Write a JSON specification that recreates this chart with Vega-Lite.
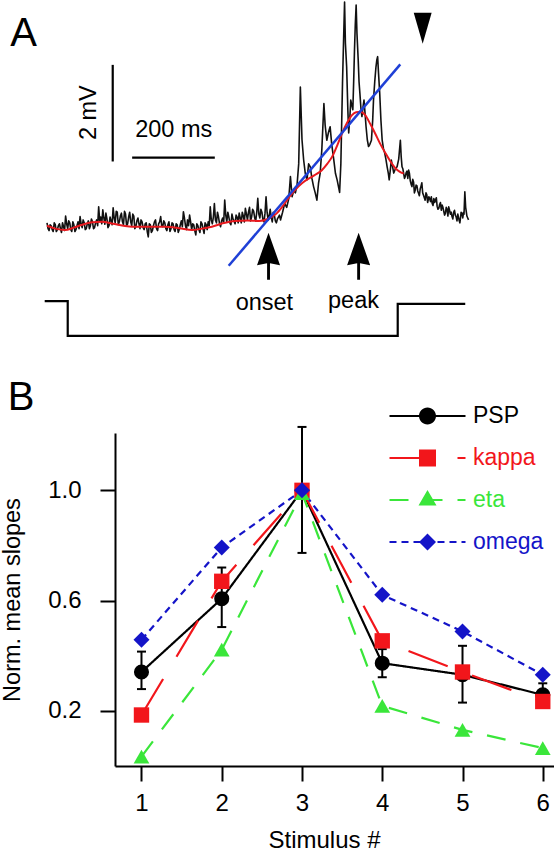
{
  "$schema": "https://vega.github.io/schema/vega-lite/v6.json",
  "padding": 0,
  "spacing": 27,
  "background": "white",
  "config": {
    "view": {"stroke": null},
    "font": "Liberation Sans",
    "text": {"font": "Liberation Sans"},
    "axis": {"labelFont": "Liberation Sans", "titleFont": "Liberation Sans", "labelColor": "black", "titleColor": "black", "titleFontWeight": "normal", "domainColor": "black", "tickColor": "black", "grid": false},
    "title": {"font": "Liberation Sans", "fontWeight": "normal", "color": "black"}
  },
  "datasets": {
    "trace": [
      {"t":0,"v":0.08},{"t":2.5,"v":-0.04},{"t":5,"v":-0.08},{"t":7.5,"v":0.04},{"t":10,"v":0.02},{"t":12.5,"v":-0.06},{"t":15,"v":-0.1},{"t":17.5,"v":0.08},{"t":20,"v":0.04},{"t":22.5,"v":-0.1},{"t":25,"v":-0.06},{"t":27.5,"v":0.02},{"t":30,"v":0.06},{"t":32.5,"v":-0.04},{"t":35,"v":-0.12},{"t":37.5,"v":0.08},{"t":40,"v":0.0},{"t":42.5,"v":-0.08},{"t":45,"v":0.22},{"t":47.5,"v":0.06},
      {"t":50,"v":-0.04},{"t":52.5,"v":0.12},{"t":55,"v":0.08},{"t":57.5,"v":-0.06},{"t":60,"v":-0.1},{"t":62.5,"v":0.1},{"t":65,"v":0.04},{"t":67.5,"v":-0.1},{"t":70,"v":-0.06},{"t":72.5,"v":0.02},{"t":75,"v":0.1},{"t":77.5,"v":-0.04},{"t":80,"v":0.21},{"t":82.5,"v":0.06},{"t":85,"v":-0.02},{"t":87.5,"v":0.14},{"t":90,"v":0.08},{"t":92.5,"v":-0.06},{"t":95,"v":-0.04},{"t":97.5,"v":0.06},
      {"t":100,"v":0.12},{"t":102.5,"v":-0.04},{"t":105,"v":0.02},{"t":107.5,"v":0.16},{"t":110,"v":0.1},{"t":112.5,"v":-0.04},{"t":115,"v":-0.02},{"t":117.5,"v":0.08},{"t":120,"v":0.14},{"t":122.5,"v":0.02},{"t":125,"v":0.41},{"t":127.5,"v":0.12},{"t":130,"v":0.2},{"t":132.5,"v":0.06},{"t":135,"v":0.35},{"t":137.5,"v":0.18},{"t":140,"v":0.05},{"t":142.5,"v":0.28},{"t":145,"v":0.16},{"t":147.5,"v":-0.02},
      {"t":150,"v":0.02},{"t":152.5,"v":0.2},{"t":155,"v":0.12},{"t":157.5,"v":0.04},{"t":160,"v":0.39},{"t":162.5,"v":0.18},{"t":165,"v":0.08},{"t":167.5,"v":0.32},{"t":170,"v":0.3},{"t":172.5,"v":0.04},{"t":175,"v":0.1},{"t":177.5,"v":0.22},{"t":180,"v":0.28},{"t":182.5,"v":0.1},{"t":185,"v":0.04},{"t":187.5,"v":0.32},{"t":190,"v":0.26},{"t":192.5,"v":0.02},{"t":195,"v":0.06},{"t":197.5,"v":0.2},
      {"t":200,"v":0.3},{"t":202.5,"v":0.1},{"t":205,"v":0.02},{"t":207.5,"v":0.26},{"t":210,"v":0.22},{"t":212.5,"v":-0.04},{"t":215,"v":0.0},{"t":217.5,"v":0.12},{"t":220,"v":0.18},{"t":222.5,"v":0.06},{"t":225,"v":-0.04},{"t":227.5,"v":0.14},{"t":230,"v":0.1},{"t":232.5,"v":-0.02},{"t":235,"v":-0.06},{"t":237.5,"v":0.06},{"t":240,"v":0.08},{"t":242.5,"v":-0.1},{"t":245,"v":-0.21},{"t":247.5,"v":0.06},
      {"t":250,"v":0.04},{"t":252.5,"v":-0.12},{"t":255,"v":-0.08},{"t":257.5,"v":0.02},{"t":260,"v":0.1},{"t":262.5,"v":0.14},{"t":265,"v":-0.04},{"t":267.5,"v":-0.08},{"t":270,"v":0.06},{"t":272.5,"v":0.1},{"t":275,"v":0.21},{"t":277.5,"v":0.02},{"t":280,"v":0.0},{"t":282.5,"v":0.12},{"t":285,"v":0.08},{"t":287.5,"v":-0.04},{"t":290,"v":-0.08},{"t":292.5,"v":0.04},{"t":295,"v":0.1},{"t":297.5,"v":-0.1},
      {"t":300,"v":-0.04},{"t":302.5,"v":0.08},{"t":305,"v":0.06},{"t":307.5,"v":-0.06},{"t":310,"v":-0.1},{"t":312.5,"v":0.06},{"t":315,"v":0.04},{"t":317.5,"v":-0.12},{"t":320,"v":-0.06},{"t":322.5,"v":0.04},{"t":325,"v":0.12},{"t":327.5,"v":0.0},{"t":330,"v":0.31},{"t":332.5,"v":0.18},{"t":335,"v":0.02},{"t":337.5,"v":-0.06},{"t":340,"v":0.14},{"t":342.5,"v":0.02},{"t":345,"v":0.24},{"t":347.5,"v":0.1},
      {"t":350,"v":-0.06},{"t":352.5,"v":0.06},{"t":355,"v":0.04},{"t":357.5,"v":-0.08},{"t":360,"v":-0.17},{"t":362.5,"v":0.06},{"t":365,"v":0.02},{"t":367.5,"v":-0.06},{"t":370,"v":-0.12},{"t":372.5,"v":0.1},{"t":375,"v":0.06},{"t":377.5,"v":-0.04},{"t":380,"v":-0.14},{"t":382.5,"v":0.08},{"t":385,"v":0.04},{"t":387.5,"v":-0.06},{"t":390,"v":0.1},{"t":392.5,"v":0.02},{"t":395,"v":0.41},{"t":397.5,"v":0.14},
      {"t":400,"v":0.06},{"t":402.5,"v":0.2},{"t":405,"v":0.48},{"t":407.5,"v":0.14},{"t":410,"v":0.08},{"t":412.5,"v":0.3},{"t":415,"v":0.2},{"t":417.5,"v":0.06},{"t":420,"v":0.0},{"t":422.5,"v":0.12},{"t":425,"v":0.18},{"t":427.5,"v":0.08},{"t":430,"v":0.55},{"t":432.5,"v":0.24},{"t":435,"v":0.1},{"t":437.5,"v":0.3},{"t":440,"v":0.2},{"t":442.5,"v":0.08},{"t":445,"v":0.04},{"t":447.5,"v":0.26},
      {"t":450,"v":0.16},{"t":452.5,"v":0.12},{"t":455,"v":0.06},{"t":457.5,"v":0.24},{"t":460,"v":0.2},{"t":462.5,"v":0.08},{"t":465,"v":0.28},{"t":467.5,"v":0.18},{"t":470,"v":0.08},{"t":472.5,"v":0.3},{"t":475,"v":0.22},{"t":477.5,"v":0.1},{"t":480,"v":0.38},{"t":482.5,"v":0.26},{"t":485,"v":0.14},{"t":487.5,"v":0.3},{"t":490,"v":0.4},{"t":492.5,"v":0.12},{"t":495,"v":0.2},{"t":497.5,"v":0.36},
      {"t":500,"v":0.32},{"t":502.5,"v":0.18},{"t":505,"v":0.12},{"t":507.5,"v":0.3},{"t":510,"v":0.59},{"t":512.5,"v":0.26},{"t":515,"v":0.18},{"t":517.5,"v":0.36},{"t":520,"v":0.3},{"t":522.5,"v":0.14},{"t":525,"v":0.1},{"t":527.5,"v":0.28},{"t":530,"v":0.62},{"t":532.5,"v":0.3},{"t":535,"v":0.14},{"t":537.5,"v":0.22},{"t":540,"v":0.36},{"t":542.5,"v":0.2},{"t":545,"v":0.1},{"t":547.5,"v":0.3},
      {"t":550,"v":0.24},{"t":552.5,"v":0.12},{"t":555,"v":0.08},{"t":557.5,"v":0.16},{"t":560,"v":0.2},{"t":562.5,"v":0.24},{"t":565,"v":0.14},{"t":570,"v":0.3},{"t":575,"v":0.48},{"t":580,"v":0.4},{"t":585,"v":0.58},{"t":589,"v":1.04},{"t":593,"v":0.62},
      {"t":597,"v":0.75},{"t":601,"v":0.7},{"t":605,"v":0.86},{"t":609,"v":1.3},{"t":613,"v":2.89},{"t":617,"v":1.8},{"t":621,"v":1.38},{"t":625,"v":1.1},{"t":629,"v":0.97},{"t":633,"v":1.3},
      {"t":637,"v":1.24},{"t":641,"v":1.0},{"t":645,"v":0.83},{"t":649,"v":0.7},{"t":653,"v":0.55},{"t":657,"v":0.9},{"t":661,"v":1.11},{"t":665,"v":1.6},{"t":670,"v":2.55},{"t":673,"v":2.1},
      {"t":677,"v":1.79},{"t":681,"v":1.95},{"t":685,"v":2.07},{"t":689,"v":1.7},{"t":694,"v":1.38},{"t":698,"v":1.1},{"t":702,"v":0.97},{"t":706,"v":0.8},{"t":708,"v":0.71},{"t":711,"v":1.3},
      {"t":715,"v":2.97},{"t":718,"v":4.0},{"t":720,"v":4.65},{"t":722,"v":3.8},{"t":725,"v":3.31},{"t":728,"v":2.4},{"t":730,"v":1.94},{"t":733,"v":2.3},{"t":735,"v":2.62},{"t":738,"v":2.5},
      {"t":740,"v":2.42},{"t":742,"v":3.0},{"t":744,"v":3.66},{"t":746,"v":4.2},{"t":748,"v":4.59},{"t":750,"v":4.0},{"t":753,"v":3.45},{"t":755,"v":3.0},{"t":757,"v":2.77},{"t":760,"v":2.4},
      {"t":762,"v":2.28},{"t":765,"v":2.5},{"t":767,"v":2.62},{"t":770,"v":2.3},{"t":772,"v":2.07},{"t":775,"v":1.8},{"t":778,"v":1.66},{"t":781,"v":1.7},{"t":785,"v":1.79},{"t":788,"v":2.2},
      {"t":790,"v":2.62},{"t":793,"v":3.0},{"t":796,"v":3.31},{"t":798,"v":3.45},{"t":800,"v":3.52},{"t":802,"v":3.2},{"t":805,"v":2.77},{"t":808,"v":2.2},{"t":811,"v":1.79},{"t":814,"v":1.62},
      {"t":817,"v":1.53},{"t":820,"v":1.4},{"t":823,"v":1.24},{"t":826,"v":1.1},{"t":828,"v":0.97},{"t":831,"v":1.2},{"t":833,"v":1.38},{"t":836,"v":1.25},{"t":839,"v":1.11},{"t":843,"v":1.2},
      {"t":847,"v":1.24},{"t":851,"v":1.4},{"t":855,"v":1.79},{"t":857,"v":1.45},{"t":859,"v":1.24},{"t":861,"v":1.2},{"t":863,"v":1.1},{"t":865,"v":1.0},{"t":867,"v":1.04},{"t":869,"v":1.12},{"t":871,"v":1.15},{"t":873,"v":1.0},{"t":875,"v":1.17},{"t":877,"v":1.1},{"t":879,"v":0.95},
      {"t":881,"v":0.88},{"t":883,"v":0.83},{"t":885,"v":0.98},{"t":887,"v":0.92},{"t":889,"v":0.7},{"t":891,"v":0.76},{"t":893,"v":0.86},{"t":895,"v":0.85},{"t":897,"v":0.74},{"t":899,"v":0.69},{"t":901,"v":0.64},{"t":903,"v":0.78},{"t":905,"v":0.84},{"t":907,"v":0.91},{"t":909,"v":0.7},{"t":911,"v":0.65},{"t":913,"v":0.6},{"t":915,"v":0.55},{"t":917,"v":0.7},{"t":919,"v":0.66},
      {"t":921,"v":0.5},{"t":924,"v":0.62},{"t":926,"v":0.58},{"t":928,"v":0.52},{"t":930,"v":0.62},{"t":932,"v":0.48},{"t":934,"v":0.44},{"t":936,"v":0.58},{"t":938,"v":0.5},{"t":940,"v":0.55},{"t":942,"v":0.6},{"t":944,"v":0.42},{"t":946,"v":0.36},{"t":948,"v":0.38},{"t":950,"v":0.46},{"t":952,"v":0.5},{"t":954,"v":0.34},{"t":956,"v":0.45},{"t":958,"v":0.4},{"t":960,"v":0.32},
      {"t":962,"v":0.24},{"t":964,"v":0.28},{"t":966,"v":0.4},{"t":968,"v":0.36},{"t":970,"v":0.22},{"t":972,"v":0.41},{"t":974,"v":0.34},{"t":976,"v":0.26},{"t":978,"v":0.3},{"t":980,"v":0.21},{"t":982,"v":0.16},{"t":984,"v":0.3},{"t":986,"v":0.34},{"t":988,"v":0.24},{"t":990,"v":0.2},{"t":992,"v":0.12},{"t":994,"v":0.26},{"t":997,"v":0.14},{"t":999,"v":0.08},{"t":1001,"v":0.22},
      {"t":1002,"v":0.3},{"t":1004,"v":0.28},{"t":1006,"v":0.18},{"t":1008,"v":0.3},{"t":1009,"v":0.26},{"t":1011,"v":0.72},{"t":1013,"v":0.4},{"t":1015,"v":0.28},{"t":1016,"v":0.22},{"t":1018,"v":0.18},{"t":1020,"v":0.14}
    ],
    "smooth": [
      {"t":0,"v":0.02},{"t":20,"v":-0.04},{"t":43,"v":-0.07},{"t":65,"v":-0.02},{"t":85,"v":0.04},{"t":110,"v":0.09},{"t":133,"v":0.1},{"t":160,"v":0.06},{"t":185,"v":0.02},{"t":206,"v":0.0},
      {"t":240,"v":0.0},{"t":285,"v":0.0},{"t":320,"v":-0.03},{"t":351,"v":-0.07},{"t":375,"v":-0.04},{"t":399,"v":0.0},{"t":425,"v":0.07},{"t":455,"v":0.12},{"t":485,"v":0.13},{"t":513,"v":0.12},
      {"t":537,"v":0.17},{"t":555,"v":0.27},{"t":569,"v":0.41},{"t":585,"v":0.6},{"t":600,"v":0.76},{"t":617,"v":0.9},{"t":634,"v":1.0},{"t":650,"v":1.08},{"t":665,"v":1.17},{"t":678,"v":1.3},
      {"t":690,"v":1.45},{"t":703,"v":1.7},{"t":714,"v":1.93},{"t":726,"v":2.15},{"t":738,"v":2.31},{"t":748,"v":2.37},{"t":758,"v":2.38},{"t":770,"v":2.31},{"t":782,"v":2.13},{"t":794,"v":1.93},
      {"t":806,"v":1.72},{"t":819,"v":1.52},{"t":831,"v":1.35},{"t":843,"v":1.21},{"t":853,"v":1.14},{"t":863,"v":1.1}
    ],
    "fit": [{"t":439.6,"v":-0.81},{"t":854.8,"v":3.36}],
    "stim": [
      {"t":-5.6,"v":-1.54,"o":1},{"t":50.1,"v":-1.54,"o":2},{"t":50.1,"v":-2.26,"o":3},{"t":848.6,"v":-2.26,"o":4},{"t":848.6,"v":-1.6,"o":5},{"t":1012,"v":-1.6,"o":6}
    ],
    "bars": [{"t":159,"v":1.35,"t2":159,"v2":3.35},{"t":206,"v":1.43,"t2":406,"v2":1.43}],
    "arrows": [{"label":"onset","t":536,"v":-0.61},{"label":"peak","t":754,"v":-0.61}],
    "marker": [{"t":909,"v":4.11}],
    "labels": [{"text":"200 ms","t":306.5,"v":1.86},{"text":"onset","t":526,"v":-1.72},{"text":"peak","t":741.6,"v":-1.68}],
    "vlabel": [{"text":"2 mV","t":100.9,"v":2.36}],
    "panel": [{"text":"A","t":-88.8,"v":3.75}],
    "slopes": [
      {"series":"PSP","x":1,"y":0.341,"lo":0.279,"hi":0.415},
      {"series":"PSP","x":2,"y":0.607,"lo":0.504,"hi":0.72},
      {"series":"PSP","x":3,"y":1.0,"lo":0.773,"hi":1.23},
      {"series":"PSP","x":4,"y":0.373,"lo":0.322,"hi":0.424},
      {"series":"PSP","x":5,"y":0.331,"lo":0.23,"hi":0.436},
      {"series":"PSP","x":6,"y":0.258,"lo":0.216,"hi":0.3},
      {"series":"kappa","x":1,"y":0.185},
      {"series":"kappa","x":2,"y":0.67},
      {"series":"kappa","x":3,"y":1.0},
      {"series":"kappa","x":4,"y":0.454},
      {"series":"kappa","x":5,"y":0.341},
      {"series":"kappa","x":6,"y":0.234},
      {"series":"eta","x":1,"y":0.034},
      {"series":"eta","x":2,"y":0.422},
      {"series":"eta","x":3,"y":0.99},
      {"series":"eta","x":4,"y":0.218},
      {"series":"eta","x":5,"y":0.131},
      {"series":"eta","x":6,"y":0.065},
      {"series":"omega","x":1,"y":0.458},
      {"series":"omega","x":2,"y":0.793},
      {"series":"omega","x":3,"y":1.0},
      {"series":"omega","x":4,"y":0.621},
      {"series":"omega","x":5,"y":0.488},
      {"series":"omega","x":6,"y":0.331}
    ]
  },
  "vconcat": [
    {
      "width": 441,
      "height": 350,
      "encoding": {
        "x": {"field": "t", "type": "quantitative", "scale": {"domain": [164.5, 1231.6], "nice": false, "zero": false}, "axis": null},
        "y": {"field": "v", "type": "quantitative", "scale": {"domain": [-2.553, 4.693], "nice": false, "zero": false}, "axis": null}
      },
      "layer": [
        {"data": {"name": "stim"}, "mark": {"type": "line", "color": "black", "strokeWidth": 2.2}, "encoding": {"order": {"field": "o", "type": "quantitative"}}},
        {"data": {"name": "trace"}, "mark": {"type": "line", "color": "#111111", "strokeWidth": 1.6, "strokeJoin": "round"}, "encoding": {}},
        {"data": {"name": "smooth"}, "mark": {"type": "line", "color": "#e8191e", "strokeWidth": 2, "interpolate": "monotone"}, "encoding": {}},
        {"data": {"name": "fit"}, "mark": {"type": "line", "color": "#1f40d6", "strokeWidth": 2.5}, "encoding": {}},
        {"data": {"name": "bars"}, "mark": {"type": "rule", "color": "black", "strokeWidth": 2.2}, "encoding": {"x2": {"field": "t2"}, "y2": {"field": "v2"}}},
        {"data": {"name": "arrows"}, "mark": {"type": "point", "filled": true, "color": "black", "opacity": 1, "size": 2304, "shape": "M0,-0.98L0.48,0.38L0.06,0.3L0.06,0.98L-0.06,0.98L-0.06,0.3L-0.48,0.38Z"}, "encoding": {}},
        {"data": {"name": "marker"}, "mark": {"type": "point", "filled": true, "color": "black", "opacity": 1, "size": 1024, "shape": "M-0.56,-0.97L0.56,-0.97L0,0.97Z"}, "encoding": {}},
        {"data": {"name": "labels"}, "mark": {"type": "text", "fontSize": 23.5, "align": "center", "baseline": "alphabetic", "color": "black"}, "encoding": {"text": {"field": "text"}}},
        {"data": {"name": "vlabel"}, "mark": {"type": "text", "fontSize": 23.5, "angle": 270, "align": "center", "baseline": "middle", "color": "black"}, "encoding": {"text": {"field": "text"}}},
        {"data": {"name": "panel"}, "mark": {"type": "text", "fontSize": 40, "align": "left", "baseline": "alphabetic", "color": "black"}, "encoding": {"text": {"field": "text"}}}
      ]
    },
    {
      "width": 439,
      "height": 333,
      "title": {"text": "B", "anchor": "start", "fontSize": 40, "offset": -13, "dx": 7},
      "data": {"name": "slopes"},
      "resolve": {"scale": {"color": "independent", "shape": "independent"}},
      "layer": [
        {
          "transform": [{"filter": "datum.series === 'PSP'"}],
          "mark": {"type": "rule", "color": "black", "strokeWidth": 2},
          "encoding": {
            "x": {"field": "x", "type": "quantitative", "scale": {"domain": [0.67, 6.14], "nice": false, "zero": false},
                  "axis": {"values": [1, 2, 3, 4, 5, 6], "title": "Stimulus #", "titleFontSize": 24, "labelFontSize": 24, "tickSize": 15, "tickWidth": 2, "domainWidth": 2, "labelPadding": 10, "titlePadding": 13, "titleX": 209}},
            "y": {"field": "lo", "type": "quantitative", "scale": {"domain": [0, 1.208], "nice": false, "zero": false},
                  "axis": {"values": [0.2, 0.6, 1.0], "format": ".1f", "title": "Norm. mean slopes", "titleFontSize": 23.5, "labelFontSize": 24, "tickSize": 15, "tickWidth": 2, "domainWidth": 2, "labelPadding": 19, "titlePadding": 23}},
            "y2": {"field": "hi"}
          }
        },
        {
          "transform": [{"filter": "datum.series === 'PSP'"}],
          "mark": {"type": "tick", "color": "black", "orient": "horizontal", "size": 9, "thickness": 2, "opacity": 1},
          "encoding": {
            "x": {"field": "x", "type": "quantitative", "scale": {"domain": [0.67, 6.14], "nice": false, "zero": false},
                  "axis": {"values": [1, 2, 3, 4, 5, 6], "title": "Stimulus #", "titleFontSize": 24, "labelFontSize": 24, "tickSize": 15, "tickWidth": 2, "domainWidth": 2, "labelPadding": 10, "titlePadding": 13, "titleX": 209}},
            "y": {"field": "hi", "type": "quantitative", "scale": {"domain": [0, 1.208], "nice": false, "zero": false},
                  "axis": {"values": [0.2, 0.6, 1.0], "format": ".1f", "title": "Norm. mean slopes", "titleFontSize": 23.5, "labelFontSize": 24, "tickSize": 15, "tickWidth": 2, "domainWidth": 2, "labelPadding": 19, "titlePadding": 23}}
          }
        },
        {
          "transform": [{"filter": "datum.series === 'PSP'"}],
          "mark": {"type": "tick", "color": "black", "orient": "horizontal", "size": 9, "thickness": 2, "opacity": 1},
          "encoding": {
            "x": {"field": "x", "type": "quantitative", "scale": {"domain": [0.67, 6.14], "nice": false, "zero": false},
                  "axis": {"values": [1, 2, 3, 4, 5, 6], "title": "Stimulus #", "titleFontSize": 24, "labelFontSize": 24, "tickSize": 15, "tickWidth": 2, "domainWidth": 2, "labelPadding": 10, "titlePadding": 13, "titleX": 209}},
            "y": {"field": "lo", "type": "quantitative", "scale": {"domain": [0, 1.208], "nice": false, "zero": false},
                  "axis": {"values": [0.2, 0.6, 1.0], "format": ".1f", "title": "Norm. mean slopes", "titleFontSize": 23.5, "labelFontSize": 24, "tickSize": 15, "tickWidth": 2, "domainWidth": 2, "labelPadding": 19, "titlePadding": 23}}
          }
        },
        {
          "mark": {"type": "line", "strokeWidth": 2.2},
          "encoding": {
            "x": {"field": "x", "type": "quantitative", "scale": {"domain": [0.67, 6.14], "nice": false, "zero": false},
                  "axis": {"values": [1, 2, 3, 4, 5, 6], "title": "Stimulus #", "titleFontSize": 24, "labelFontSize": 24, "tickSize": 15, "tickWidth": 2, "domainWidth": 2, "labelPadding": 10, "titlePadding": 13, "titleX": 209}},
            "y": {"field": "y", "type": "quantitative", "scale": {"domain": [0, 1.208], "nice": false, "zero": false},
                  "axis": {"values": [0.2, 0.6, 1.0], "format": ".1f", "title": "Norm. mean slopes", "titleFontSize": 23.5, "labelFontSize": 24, "tickSize": 15, "tickWidth": 2, "domainWidth": 2, "labelPadding": 19, "titlePadding": 23}},
            "color": {"field": "series", "type": "nominal", "scale": {"domain": ["PSP", "kappa", "eta", "omega"], "range": ["#000000", "#f2161b", "#3ae63a", "#1414c8"]}, "legend": null},
            "strokeDash": {"field": "series", "type": "nominal", "scale": {"domain": ["PSP", "kappa", "eta", "omega"], "range": [[1, 0], [42, 26], [19, 15], [7, 5]]}, "legend": null}
          }
        },
        {
          "mark": {"type": "point", "filled": true, "opacity": 1, "strokeWidth": 0},
          "encoding": {
            "x": {"field": "x", "type": "quantitative", "scale": {"domain": [0.67, 6.14], "nice": false, "zero": false},
                  "axis": {"values": [1, 2, 3, 4, 5, 6], "title": "Stimulus #", "titleFontSize": 24, "labelFontSize": 24, "tickSize": 15, "tickWidth": 2, "domainWidth": 2, "labelPadding": 10, "titlePadding": 13, "titleX": 209}},
            "y": {"field": "y", "type": "quantitative", "scale": {"domain": [0, 1.208], "nice": false, "zero": false},
                  "axis": {"values": [0.2, 0.6, 1.0], "format": ".1f", "title": "Norm. mean slopes", "titleFontSize": 23.5, "labelFontSize": 24, "tickSize": 15, "tickWidth": 2, "domainWidth": 2, "labelPadding": 19, "titlePadding": 23}},
            "color": {"field": "series", "type": "nominal", "scale": {"domain": ["PSP", "kappa", "eta", "omega"], "range": ["#000000", "#f2161b", "#3ae63a", "#1414c8"]}, "legend": null},
            "shape": {"field": "series", "type": "nominal", "scale": {"domain": ["PSP", "kappa", "eta", "omega"], "range": ["circle", "square", "triangle-up", "diamond"]}, "legend": null},
            "size": {"field": "series", "type": "nominal", "scale": {"domain": ["PSP", "kappa", "eta", "omega"], "range": [227, 256, 289, 210]}, "legend": null}
          }
        },
        {
          "transform": [{"filter": "false"}],
          "mark": {"type": "point", "filled": true, "opacity": 1},
          "encoding": {
            "x": {"field": "x", "type": "quantitative", "scale": {"domain": [0.67, 6.14], "nice": false, "zero": false},
                  "axis": {"values": [1, 2, 3, 4, 5, 6], "title": "Stimulus #", "titleFontSize": 24, "labelFontSize": 24, "tickSize": 15, "tickWidth": 2, "domainWidth": 2, "labelPadding": 10, "titlePadding": 13, "titleX": 209}},
            "y": {"field": "y", "type": "quantitative", "scale": {"domain": [0, 1.208], "nice": false, "zero": false},
                  "axis": {"values": [0.2, 0.6, 1.0], "format": ".1f", "title": "Norm. mean slopes", "titleFontSize": 23.5, "labelFontSize": 24, "tickSize": 15, "tickWidth": 2, "domainWidth": 2, "labelPadding": 19, "titlePadding": 23}},
            "color": {"field": "series", "type": "nominal", "scale": {"domain": ["PSP", "kappa", "eta", "omega"], "range": ["#000000", "#f2161b", "#3ae63a", "#1414c8"]},
              "legend": {"orient": "none", "legendX": 301, "legendY": -28.5, "title": null, "symbolSize": 400, "symbolStrokeWidth": 0, "labelFont": "Liberation Sans", "labelFontSize": 23, "labelOffset": 34, "rowPadding": 18, "padding": 0, "labelLimit": 300,
                "labelColor": {"expr": "datum.value === 'kappa' ? '#f2161b' : datum.value === 'eta' ? '#3ae63a' : datum.value === 'omega' ? '#1414c8' : '#000000'"}}},
            "shape": {"field": "series", "type": "nominal", "scale": {"domain": ["PSP", "kappa", "eta", "omega"], "range": [
                "M-3.8,-0.11H3.8V0.11H-3.8Z M-0.85,0A0.85,0.85,0,1,1,0.85,0A0.85,0.85,0,1,1,-0.85,0Z",
                "M-3.8,-0.11H0.4V0.11H-3.8Z M3.0,-0.11H3.8V0.11H3.0Z M-0.85,-0.85H0.85V0.85H-0.85Z",
                "M-3.8,-0.11H-1.9V0.11H-3.8Z M-0.4,-0.11H1.5V0.11H-0.4Z M3.0,-0.11H3.8V0.11H3.0Z M0,-1.0L0.9,0.55L-0.9,0.55Z",
                "M-3.8,-0.1H-3.1V0.1H-3.8Z M-2.6,-0.1H-1.9V0.1H-2.6Z M-1.4,-0.1H-0.7V0.1H-1.4Z M1.0,-0.1H1.7V0.1H1.0Z M2.2,-0.1H2.9V0.1H2.2Z M3.4,-0.1H3.8V0.1H3.4Z M-0.85,0L0,-0.85L0.85,0L0,0.85Z"]},
              "legend": {"orient": "none", "legendX": 301, "legendY": -28.5, "title": null, "symbolSize": 400, "symbolStrokeWidth": 0, "labelFont": "Liberation Sans", "labelFontSize": 23, "labelOffset": 34, "rowPadding": 18, "padding": 0, "labelLimit": 300,
                "labelColor": {"expr": "datum.value === 'kappa' ? '#f2161b' : datum.value === 'eta' ? '#3ae63a' : datum.value === 'omega' ? '#1414c8' : '#000000'"}}}
          }
        }
      ]
    }
  ]
}
